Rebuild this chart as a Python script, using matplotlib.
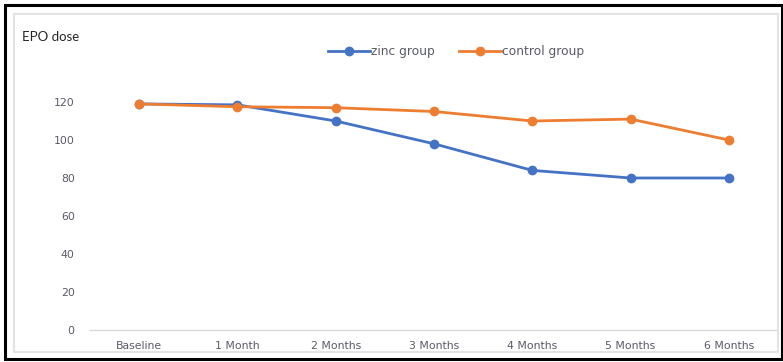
import matplotlib.pyplot as plt
from matplotlib.patches import Rectangle

months = ['Baseline', '1 Month', '2 Months', '3 Months', '4 Months', '5 Months', '6 Months']
zinc = [119, 118.5, 110, 98, 84, 80, 80]
control = [119, 117.5, 117, 115, 110, 111, 100]
yticks = [0, 20, 40, 60, 80, 100, 120]

W, H = 783, 362
plt.rcParams['font.family'] = ['DejaVu Sans']

fig = plt.figure(figsize=(W / 100, H / 100), dpi=100)

# frame around the whole picture and the lighter chart border inside
fig.patches.append(Rectangle((5 / W, 3 / H), 777 / W, 354 / H, transform=fig.transFigure,
                             fill=False, edgecolor='black', linewidth=2.2))
fig.patches.append(Rectangle((14 / W, 10 / H), 764 / W, 338 / H, transform=fig.transFigure,
                             fill=False, edgecolor='#e3e3e3', linewidth=1.5))

ax = fig.add_axes([90 / W, 32 / H, 688 / W, 256.5 / H])
x = range(len(months))
ax.plot(x, zinc, color='#4472c4', lw=2.0, marker='o', ms=6, label='zinc group')
ax.plot(x, control, color='#ed7d31', lw=2.0, marker='o', ms=6, label='control group')

ax.set_xlim(-0.5, len(months) - 0.5)
ax.set_ylim(0, 135)
ax.set_yticks(yticks)
ax.set_xticks(list(x))
ax.set_xticklabels(months)
ax.tick_params(length=0, labelsize=7.8, labelcolor='#5a5a66')
ax.tick_params(axis='y', pad=11)
ax.tick_params(axis='x', pad=8)
for s in ['top', 'right', 'left']:
    ax.spines[s].set_visible(False)
ax.spines['bottom'].set_color('#d9d9d9')
ax.spines['bottom'].set_linewidth(1.0)

fig.text(22 / W, 1 - 37 / H, 'EPO dose', fontsize=9.5, color='#262626', va='center',
         family='Lato')
fig.legend(loc='center', bbox_to_anchor=(456 / W, 1 - 52 / H), ncol=2, frameon=False,
           fontsize=8.8, labelcolor='#5a5a66', handlelength=3.4, handletextpad=0.1,
           columnspacing=2.0)

fig.savefig('out.png', dpi=100)
